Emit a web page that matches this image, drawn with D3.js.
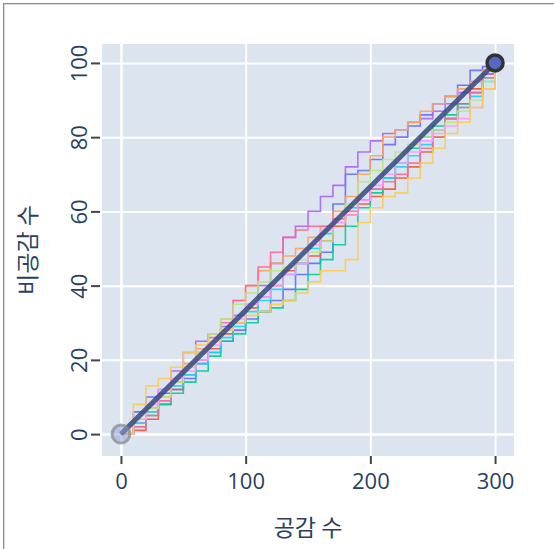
<!DOCTYPE html>
<html>
<head>
<meta charset="utf-8">
<title>공감 / 비공감 랜덤워크</title>
<script src="https://cdn.jsdelivr.net/npm/d3@7"></script>
<style>
    body { margin: 0; background: #fff; }
    #frame {
        position: absolute; left: 3px; top: 3px; width: 560px; height: 560px;
        border-top: 1px solid #8a8a8a; border-left: 1px solid #8a8a8a;
        box-shadow: inset 1px 1px 0 #dcdcdc;
    }
    svg { position: absolute; left: 0; top: 0; }
</style>
</head>
<body>
<div id="frame"></div>
<svg id="chart" width="554" height="549"></svg>
<script>
// 공감 수(x) 지점마다 읽은 비공감 수(y) — 그림에서 읽은 근사값
var colors = ["#636efa", "#EF553B", "#00cc96", "#ab63fa", "#FFA15A", "#19d3f3", "#FF6692", "#B6E880", "#FF97FF", "#FECB52"];
var likes = [0, 10, 20, 30, 40, 50, 60, 70, 80, 90, 100, 110, 120, 130, 140, 150,
             160, 170, 180, 190, 200, 210, 220, 230, 240, 250, 260, 270, 280, 290, 300];
var blueY   = [0, 6, 10, 11, 12, 15, 19, 22, 25, 28, 31, 33, 36, 39, 43, 46, 49, 62, 70, 71, 74, 78, 80, 83, 86, 89, 91, 94, 98, 99, 100];
var redY    = [0, 1, 4, 8, 12, 16, 20, 23, 27, 30, 34, 37, 40, 44, 46, 48, 52, 56, 59, 62, 64, 66, 69, 72, 76, 80, 85, 89, 93, 97, 100];
var greenY  = [0, 2, 5, 8, 11, 14, 17, 21, 25, 27, 30, 33, 34, 36, 39, 43, 47, 51, 56, 61, 65, 69, 73, 77, 80, 83, 86, 89, 92, 96, 100];
var purpleY = [0, 3, 7, 12, 17, 22, 25, 27, 29, 32, 35, 40, 46, 53, 56, 60, 64, 67, 72, 76, 79, 81, 82, 84, 85, 87, 89, 92, 95, 97, 100];
var orangeY = [0, 3, 6, 10, 14, 19, 23, 27, 31, 36, 40, 44, 46, 48, 50, 53, 56, 60, 64, 70, 75, 80, 82, 84, 87, 89, 91, 93, 95, 98, 100];
var cyanY   = [0, 3, 6, 9, 13, 16, 19, 22, 26, 29, 33, 36, 39, 43, 46, 50, 54, 58, 61, 63, 66, 69, 72, 75, 78, 82, 85, 88, 91, 95, 100];
var pinkY   = [0, 2, 5, 9, 14, 18, 22, 26, 30, 36, 40, 45, 49, 53, 55, 56, 56, 58, 60, 63, 66, 68, 70, 73, 77, 82, 85, 88, 92, 96, 100];
var limeY   = [0, 4, 7, 10, 14, 18, 22, 27, 31, 35, 38, 41, 44, 45, 47, 49, 52, 57, 62, 68, 71, 74, 76, 78, 80, 82, 84, 87, 90, 95, 100];
var lilacY  = [0, 4, 8, 12, 15, 17, 20, 24, 28, 31, 35, 37, 40, 43, 46, 51, 55, 57, 59, 63, 67, 70, 73, 76, 79, 81, 83, 85, 88, 93, 100];
var yellowY = [0, 8, 13, 15, 18, 22, 24, 25, 28, 30, 32, 33, 35, 36, 38, 41, 44, 44, 47, 57, 61, 64, 65, 69, 73, 77, 81, 84, 88, 93, 100];
var walks = [blueY, redY, greenY, purpleY, orangeY, cyanY, pinkY, limeY, lilacY, yellowY];
var diagX = [0, 300];
var diagY = [0, 100];
var xTicks = [0, 100, 200, 300];
var yTicks = [0, 20, 40, 60, 80, 100];

var svg = d3.select("#chart");
var pL = 102, pR = 514, pT = 44, pB = 456;

var x = d3.scaleLinear().domain([-15.2, 315.2]).range([pL, pR]);
var y = d3.scaleLinear().domain([-5.9, 105.1]).range([pB, pT]);

// 배경
svg.append("rect")
    .attr("x", pL).attr("y", pT)
    .attr("width", pR - pL).attr("height", pB - pT)
    .attr("fill", "#dce4f0");

// 격자
svg.append("g")
    .attr("transform", "translate(0," + pT + ")")
    .call(d3.axisBottom(x).tickValues(xTicks).tickSize(pB - pT).tickFormat(""))
    .call(g => g.select(".domain").remove())
    .call(g => g.selectAll("line").attr("stroke", "#fff").attr("stroke-width", d => d === 0 ? 2.5 : 2));
svg.append("g")
    .attr("transform", "translate(" + pL + ",0)")
    .call(d3.axisRight(y).tickValues(yTicks).tickSize(pR - pL).tickFormat(""))
    .call(g => g.select(".domain").remove())
    .call(g => g.selectAll("line").attr("stroke", "#fff").attr("stroke-width", d => d === 0 ? 2.5 : 2));

// 축 눈금
var xAxis = svg.append("g")
    .attr("transform", "translate(0," + pB + ")")
    .call(d3.axisBottom(x).tickValues(xTicks).tickSize(8).tickPadding(9));
xAxis.select(".domain").remove();
xAxis.selectAll("line").attr("stroke", "#444").attr("stroke-width", 2);
xAxis.selectAll("text")
    .attr("fill", "#2a3f5f")
    .style("font-family", "'Open Sans', sans-serif")
    .style("font-size", "22px");

var yAxis = svg.append("g")
    .attr("transform", "translate(" + (pL - 2) + ",0)")
    .call(d3.axisLeft(y).tickValues(yTicks).tickSize(9).tickFormat(d3.format("d")));
yAxis.select(".domain").remove();
yAxis.selectAll("line").attr("stroke", "#444").attr("stroke-width", 2);
yAxis.selectAll("text")
    .attr("x", 0).attr("dy", 0)
    .attr("text-anchor", "middle")
    .attr("transform", "translate(-13,0) rotate(-90)")
    .attr("fill", "#2a3f5f")
    .style("font-family", "'Open Sans', sans-serif")
    .style("font-size", "22px");

// 축 제목
svg.append("text")
    .attr("x", (pL + pR) / 2).attr("y", 536)
    .attr("text-anchor", "middle")
    .attr("fill", "#2a3f5f")
    .style("font-family", "'Noto Sans CJK KR', sans-serif")
    .style("font-size", "23px")
    .text("공감 수");
svg.append("text")
    .attr("transform", "translate(36," + ((pT + pB) / 2) + ") rotate(-90)")
    .attr("text-anchor", "middle")
    .attr("fill", "#2a3f5f")
    .style("font-family", "'Noto Sans CJK KR', sans-serif")
    .style("font-size", "23px")
    .text("비공감 수");

// 클립
svg.append("clipPath").attr("id", "plot")
    .append("rect")
    .attr("x", pL).attr("y", pT)
    .attr("width", pR - pL).attr("height", pB - pT);

var plot = svg.append("g").attr("clip-path", "url(#plot)");

var line = d3.line()
    .x(d => x(d[0]))
    .y(d => y(d[1]))
    .curve(d3.curveStepAfter);

walks.forEach(function(ys, i) {
    var pts = likes.map((v, j) => [v, ys[j]]);
    plot.append("path")
        .datum(pts)
        .attr("d", line)
        .attr("fill", "none")
        .attr("stroke", colors[i])
        .attr("stroke-opacity", 0.9)
        .attr("stroke-width", 1.6);
});

// 기대 경로
plot.append("path")
    .datum(diagX.map((v, j) => [v, diagY[j]]))
    .attr("d", d3.line().x(d => x(d[0])).y(d => y(d[1])))
    .attr("fill", "none")
    .attr("stroke", "#34497e")
    .attr("stroke-opacity", 0.85)
    .attr("stroke-width", 5);

// 시작 / 끝 표시
plot.append("circle")
    .attr("cx", x(diagX[0])).attr("cy", y(diagY[0])).attr("r", 9)
    .attr("fill", "#8f9bd8").attr("fill-opacity", 0.5)
    .attr("stroke", "#888").attr("stroke-opacity", 0.7).attr("stroke-width", 3);
plot.append("circle")
    .attr("cx", x(diagX[1])).attr("cy", y(diagY[1])).attr("r", 8)
    .attr("fill", "#5468c4")
    .attr("stroke", "#333").attr("stroke-width", 3.5);
</script>
</body>
</html>
